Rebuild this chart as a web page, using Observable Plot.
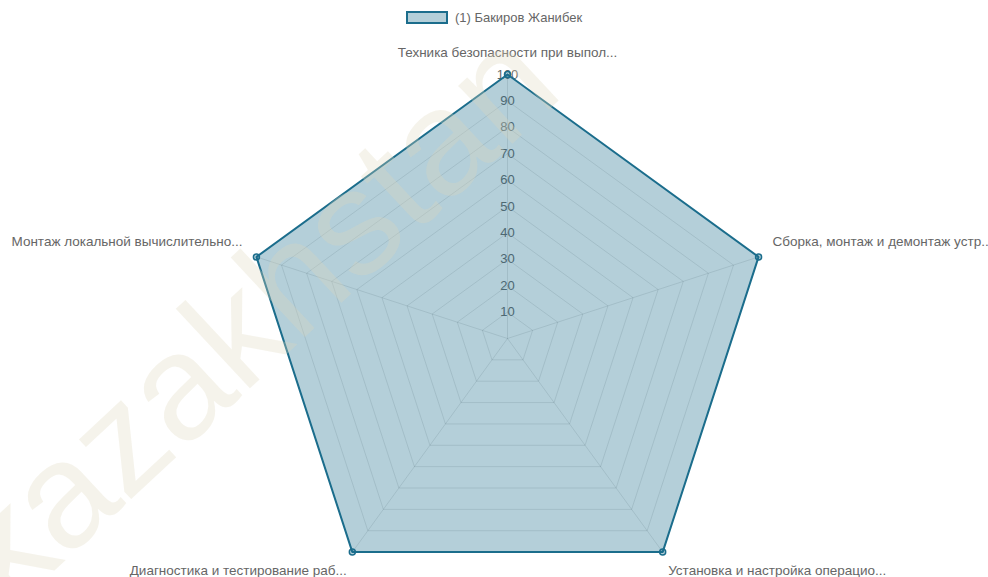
<!DOCTYPE html>
<html>
<head>
<meta charset="utf-8">
<script src="https://cdn.jsdelivr.net/npm/d3@7"></script>
<script src="https://cdn.jsdelivr.net/npm/@observablehq/plot@0.6"></script>
<style>
  html, body { margin: 0; padding: 0; background: #fff; }
  body { width: 988px; height: 577px; overflow: hidden; font-family: "Helvetica Neue", Helvetica, Arial, sans-serif; }
  #legend { height: 32px; box-sizing: border-box; padding-top: 11px; display: flex; justify-content: center; align-items: flex-start; }
  #legend .item { display: flex; align-items: center; height: 13px; }
  #legend .box { box-sizing: border-box; width: 42px; height: 13px; border: 2px solid #1b6d8c; background: rgba(27,109,140,0.33); margin-right: 7px; }
  #legend .lbl { font-size: 13px; color: #666; line-height: 13px; }
</style>
</head>
<body>
<div id="legend"></div>
<div id="chart"></div>
<script>
// ---- data ----
const axisLabels = [
  "Техника безопасности при выпол...",
  "Сборка, монтаж и демонтаж устр...",
  "Установка и настройка операцио...",
  "Диагностика и тестирование раб...",
  "Монтаж локальной вычислительно..."
];
const seriesName = "(1) Бакиров Жанибек";
const seriesValues = [100, 100, 100, 100, 100];
const tickValues = [10, 20, 30, 40, 50, 60, 70, 80, 90, 100];
const watermark = "kazakhstan";

// ---- styles ----
const lineColor = "#1b6d8c";
const fillColor = "rgba(27,109,140,0.33)";
const gridColor = "rgba(0,0,0,0.1)";
const textColor = "#666";
const maxValue = 100;

// ---- geometry helpers (data space) ----
const n = axisLabels.length;
const angleOf = i => (i * 2 * Math.PI) / n;
const polar = (r, i) => ({ x: r * Math.sin(angleOf(i)), y: r * Math.cos(angleOf(i)) });

const pts = axisLabels.map((label, i) => ({ label, i, value: seriesValues[i], ...polar(seriesValues[i], i) }));
const closed = [...pts, pts[0]];

const grid = [];
for (const t of tickValues) {
  for (let i = 0; i <= n; i++) grid.push({ t, ...polar(t, i % n) });
}
const spokes = axisLabels.map((label, i) => ({ i, ...polar(maxValue, i) }));

// legend
document.getElementById("legend").innerHTML =
  `<div class="item"><div class="box"></div><div class="lbl">${seriesName}</div></div>`;

function placement(i) {
  const a = angleOf(i);
  const s = Math.sin(a), c = Math.cos(a);
  if (Math.abs(s) < 1e-6) return { dx: 0, dy: c > 0 ? -22 : 20, textAnchor: "middle" };
  const anchor = s > 0 ? "start" : "end";
  const sign = s > 0 ? 1 : -1;
  if (c > 0) return { dx: 14 * sign, dy: -15, textAnchor: anchor };
  return { dx: 5.5 * sign, dy: 19, textAnchor: anchor };
}

const labelMarks = pts.map(p => {
  const pl = placement(p.i);
  const pos = polar(maxValue, p.i);
  return Plot.text([p], {
    x: () => pos.x, y: () => pos.y, text: "label",
    dx: pl.dx, dy: pl.dy, textAnchor: pl.textAnchor, lineAnchor: "middle",
    fill: textColor, fontSize: 13.5
  });
});

const cx = 507, cyS = 306, R = 264;

const chart = Plot.plot({
  width: 988,
  height: 545,
  marginTop: 0, marginRight: 0, marginBottom: 0, marginLeft: 0,
  x: { domain: [-maxValue, maxValue], range: [cx - R, cx + R], axis: null },
  y: { domain: [-maxValue, maxValue], range: [cyS + R, cyS - R], axis: null },
  style: { fontFamily: "'Helvetica Neue', Helvetica, Arial, sans-serif", fontSize: "12px", background: "#fff", overflow: "visible" },
  marks: [
    Plot.line(grid, { x: "x", y: "y", z: "t", stroke: gridColor, strokeWidth: 1 }),
    Plot.link(spokes, { x1: () => 0, y1: () => 0, x2: "x", y2: "y", stroke: gridColor, strokeWidth: 1 }),
    Plot.text(tickValues, { x: () => 0, y: d => d, text: d => String(d), fill: textColor, fontSize: 13 }),
    Plot.line(closed, { x: "x", y: "y", fill: lineColor, fillOpacity: 0.33, stroke: lineColor, strokeWidth: 2, strokeLinejoin: "miter" }),
    Plot.dot(pts, { x: "x", y: "y", r: 3, fill: fillColor, stroke: lineColor, strokeWidth: 1.5 }),
    ...labelMarks,
    Plot.text([watermark], { frameAnchor: "top-left", dx: 255, dy: 285, rotate: -43, textAnchor: "middle", lineAnchor: "middle", text: d => d, fontSize: 150, fill: "rgb(222,216,190)", fillOpacity: 0.3 })
  ]
});
document.getElementById("chart").appendChild(chart);
</script>
</body>
</html>
